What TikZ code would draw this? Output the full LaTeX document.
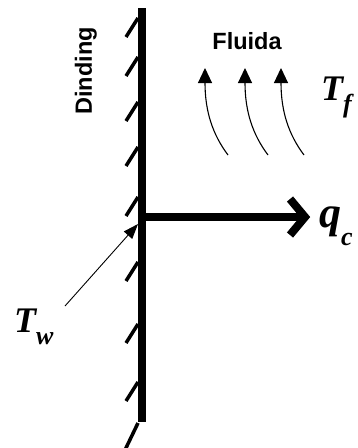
\documentclass[tikz,border=0pt]{standalone}
\usepackage{fontspec}
\setmainfont{Liberation Serif}
\newfontfamily\sansb{Liberation Sans}
\usetikzlibrary{arrows.meta,calc}
\newcommand\lowsub[3]{\raisebox{-#1}{\fontsize{#2}{#2}\selectfont #3}}
\begin{document}
\begin{tikzpicture}[x=1pt,y=-1pt,
  wall/.style={line width=8pt},
  hatch/.style={line width=3.5pt},
  flow/.style={line width=1.1pt,-{Triangle[length=15pt,width=14pt]}},
  pointer/.style={line width=0.9pt,-{Triangle[length=15pt,width=11pt]}},
  lbl/.style={inner sep=0pt,anchor=base west,font=\bfseries\itshape},
  sanslbl/.style={inner sep=0pt,font=\sansb\bfseries\fontsize{23.5}{28}\selectfont}]
\useasboundingbox[fill=white] (0,0) rectangle (358,448);
% wall
\coordinate (wtop) at (142,8);
\coordinate (wbot) at (142,422);
\draw[wall] (wtop) -- (wbot);
\foreach \y in {18,57,102,147,197,262,324,382}
  \draw[hatch] (138,\y) -- (126,\y+19);
\draw[hatch] (138,423) -- (125,450);
% heat flux arrow
\coordinate (qs) at (146,217);
\coordinate (qe) at (305,217);
\draw[wall] (qs) -- (qe);
\draw[wall,line join=miter] ($(qe)+(-15,-18)$) -- (qe) -- ($(qe)+(-15,18)$);
% fluid arrows
\foreach \x in {205,245,281}
  \draw[flow] (\x+23,155) .. controls (\x+8,135) and (\x,112) .. (\x,68);
% labels
\node[sanslbl,anchor=base] (fl) at (247,49) {Fluida};
\node[sanslbl,rotate=90,anchor=base] (dind) at (92,71) {Dinding};
\node[lbl,font=\bfseries\itshape\fontsize{36}{36}\selectfont] (Tf) at (321,100) {T\lowsub{12pt}{26}{f}};
\node[lbl,font=\bfseries\itshape\fontsize{44}{44}\selectfont] (qc) at (319,227) {q\lowsub{18pt}{26}{c}};
\node[lbl,font=\bfseries\itshape\fontsize{36}{36}\selectfont] (Tw) at (14,332) {T\lowsub{12pt}{26}{w}};
% wall temperature pointer
\coordinate (twfrom) at (65,306);
\coordinate (twto) at (138,224);
\draw[pointer] (twfrom) -- (twto);
\end{tikzpicture}
\end{document}
